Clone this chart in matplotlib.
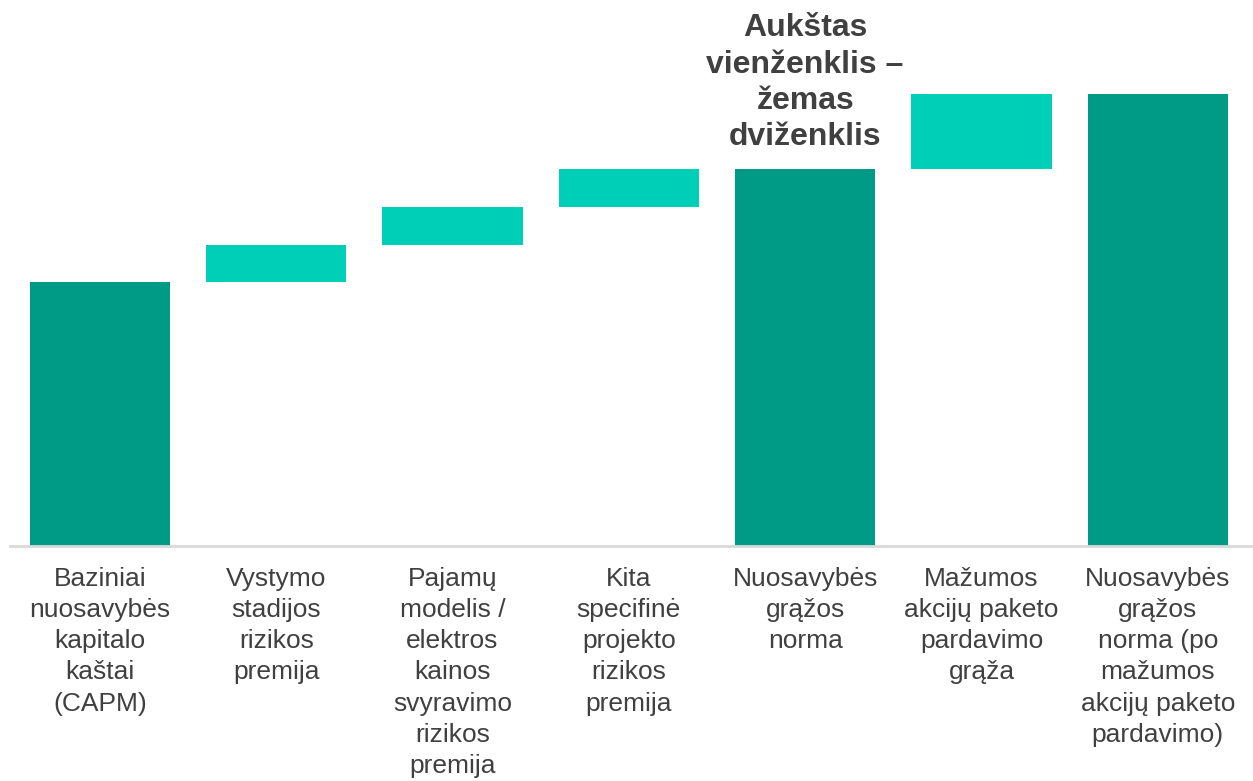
import numpy as np
import matplotlib
matplotlib.use("Agg")
import matplotlib.pyplot as plt

# waterfall data (percent points)
labels = ["Baziniai\nnuosavybės\nkapitalo\nkaštai\n(CAPM)",
          "Vystymo\nstadijos\nrizikos\npremija",
          "Pajamų\nmodelis /\nelektros\nkainos\nsvyravimo\nrizikos\npremija",
          "Kita\nspecifinė\nprojekto\nrizikos\npremija",
          "Nuosavybės\ngrąžos\nnorma",
          "Mažumos\nakcijų paketo\npardavimo\ngrąža",
          "Nuosavybės\ngrąžos\nnorma (po\nmažumos\nakcijų paketo\npardavimo)"]
values = [7.0, 1.0, 1.0, 1.0, 0.0, 2.0, 0.0]
is_total = [True, False, False, False, True, False, True]
note = "Aukštas\nvienženklis –\nžemas\ndviženklis"

dark = "#009B87"
light = "#00CFB8"
txt = "#404040"

plt.rcParams['font.family'] = ['Liberation Sans', 'DejaVu Sans']

fig = plt.figure(figsize=(12.53, 7.81), dpi=100)
ax = fig.add_axes([0.008, 0.301, 0.992, 0.699])

x = np.arange(len(labels))
running = 0.0
heights, bottoms, colors = [], [], []
for v, tot in zip(values, is_total):
    if tot and v == 0.0:
        # subtotal bar: runs from zero up to the running sum
        heights.append(running)
        bottoms.append(0.0)
        colors.append(dark)
    elif tot:
        running += v
        heights.append(v)
        bottoms.append(0.0)
        colors.append(dark)
    else:
        bottoms.append(running)
        heights.append(v)
        running += v
        colors.append(light)

ax.bar(x, heights, bottom=bottoms, width=0.795, color=colors)

ax.set_xlim(-0.51, 6.54)
ax.set_ylim(0, 14.5)
ax.set_yticks([])
for s in ["top", "right", "left"]:
    ax.spines[s].set_visible(False)
ax.spines["bottom"].set_color("#D9D9D9")
ax.spines["bottom"].set_linewidth(2)

ax.set_xticks(x)
ax.set_xticklabels(labels, fontsize=19, color=txt, linespacing=1.38)
ax.tick_params(axis="x", length=0, pad=15)

ax.text(4, 12.3, note, ha="center", va="center", fontsize=23,
        fontweight="bold", color=txt, linespacing=1.28)

fig.savefig("out.png", dpi=100)
